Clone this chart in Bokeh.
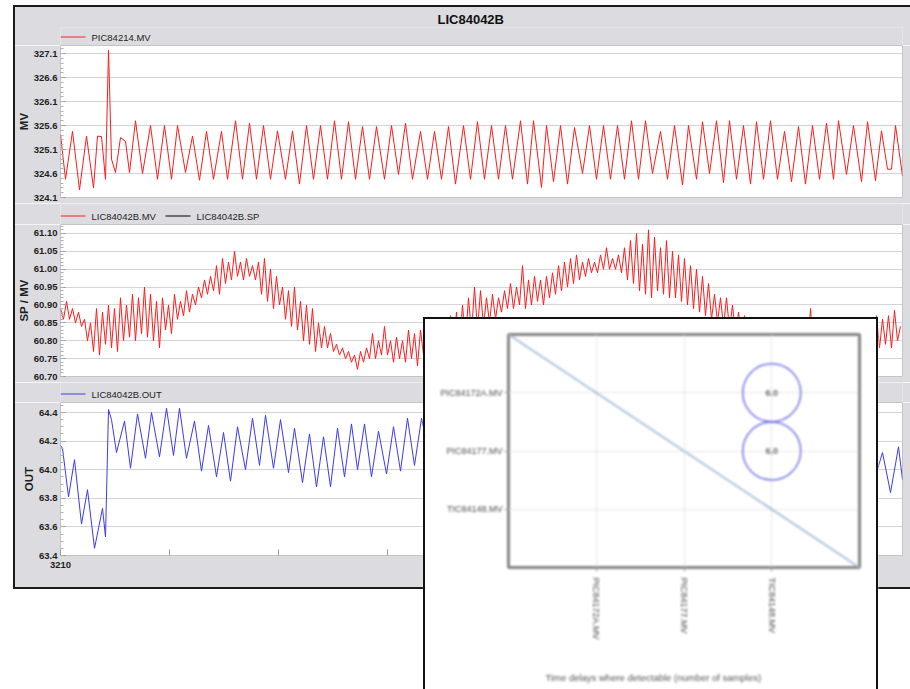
from bokeh.plotting import figure
from bokeh.models import (Range1d, FixedTicker, PrintfTickFormatter, GridBox, Column, Div, Title)
from bokeh.core.properties import value
from bokeh.embed import file_html
from bokeh.resources import INLINE

# ---------------- data ----------------
chart_title = "LIC84042B"

# PIC84214.MV  (sample index, value)
pic_samples = [
    3210, 3215, 3222, 3229, 3236, 3243, 3247, 3251, 3255, 3258,
    3261, 3265, 3270, 3275, 3279, 3285, 3292, 3300, 3307, 3314,
    3321, 3327, 3335, 3342, 3349, 3356, 3363, 3371, 3377, 3385,
    3392, 3399, 3406, 3413, 3420, 3427, 3435, 3442, 3449, 3456,
    3463, 3470, 3477, 3484, 3491, 3498, 3505, 3512, 3519, 3526,
    3534, 3541, 3548, 3555, 3562, 3570, 3577, 3584, 3591, 3598,
    3605, 3613, 3620, 3627, 3634, 3641, 3648, 3655, 3662, 3670,
    3677, 3683, 3691, 3696, 3703, 3710, 3717, 3724, 3732, 3739,
    3746, 3753, 3760, 3767, 3774, 3781, 3788, 3795, 3802, 3810,
    3817, 3824, 3832, 3838, 3846, 3852, 3859, 3866, 3873, 3879,
    3886, 3893, 3900, 3906, 3913, 3920, 3927, 3934, 3941, 3948,
    3955, 3962, 3969, 3976, 3983, 3988, 3996, 4003, 4011, 4017,
    4025, 4031, 4037, 4041, 4045, 4052,
]
pic_values = [
    325.41, 324.48, 325.48, 324.26, 325.38, 324.30, 325.38, 325.37, 324.48, 327.17,
    324.90, 324.62, 325.35, 325.27, 324.62, 325.70, 324.60, 325.60, 324.48, 325.60,
    324.48, 325.60, 324.62, 325.38, 324.46, 325.48, 324.48, 325.48, 324.48, 325.70,
    324.48, 325.65, 324.48, 325.60, 324.48, 325.49, 324.48, 325.49, 324.38, 325.60,
    324.48, 325.60, 324.48, 325.70, 324.48, 325.68, 324.48, 325.58, 324.48, 325.58,
    324.48, 325.60, 324.58, 325.65, 324.48, 325.48, 324.48, 325.48, 324.48, 325.58,
    324.38, 325.60, 324.48, 325.68, 324.48, 325.60, 324.48, 325.60, 324.48, 325.70,
    324.38, 325.70, 324.31, 325.60, 324.43, 325.60, 324.38, 325.56, 324.60, 325.60,
    324.48, 325.60, 324.48, 325.60, 324.48, 325.70, 324.48, 325.70, 324.60, 325.48,
    324.48, 325.60, 324.36, 325.60, 324.48, 325.68, 324.60, 325.70, 324.41, 325.70,
    324.48, 325.60, 324.38, 325.68, 324.48, 325.70, 324.48, 325.48, 324.43, 325.58,
    324.38, 325.60, 324.48, 325.65, 324.48, 325.70, 324.58, 325.60, 324.43, 325.68,
    324.45, 325.49, 324.69, 324.69, 325.60, 324.55,
]

# LIC84042B.MV, logged every 3 samples from 3210
mv_start, mv_step = 3210, 3
mv_values = [
    60.89, 60.86, 60.91, 60.86, 60.89, 60.85, 60.88, 60.84, 60.86, 60.80,
    60.85, 60.77, 60.89, 60.76, 60.88, 60.79, 60.90, 60.78, 60.89, 60.77,
    60.92, 60.80, 60.90, 60.81, 60.93, 60.80, 60.92, 60.82, 60.95, 60.81,
    60.93, 60.80, 60.91, 60.78, 60.92, 60.83, 60.90, 60.82, 60.93, 60.86,
    60.91, 60.87, 60.94, 60.88, 60.93, 60.90, 60.95, 60.92, 60.97, 60.93,
    60.98, 60.94, 61.01, 60.93, 61.03, 60.96, 61.02, 60.97, 61.05, 60.98,
    61.02, 60.97, 61.03, 60.98, 61.01, 60.97, 61.02, 60.93, 61.03, 60.91,
    61.00, 60.89, 60.98, 60.90, 60.95, 60.86, 60.94, 60.84, 60.95, 60.83,
    60.91, 60.80, 60.90, 60.79, 60.89, 60.77, 60.85, 60.78, 60.84, 60.78,
    60.82, 60.77, 60.79, 60.76, 60.78, 60.75, 60.77, 60.74, 60.76, 60.72,
    60.77, 60.74, 60.78, 60.75, 60.82, 60.75, 60.80, 60.76, 60.84, 60.76,
    60.80, 60.74, 60.81, 60.75, 60.80, 60.74, 60.83, 60.75, 60.82, 60.73,
    60.83, 60.76, 60.84, 60.77, 60.83, 60.76, 60.85, 60.77, 60.84, 60.78,
    60.87, 60.78, 60.88, 60.79, 60.90, 60.80, 60.92, 60.82, 60.95, 60.83,
    60.94, 60.84, 60.92, 60.85, 60.93, 60.86, 60.92, 60.88, 60.94, 60.89,
    60.96, 60.89, 60.95, 60.90, 61.01, 60.89, 60.97, 60.90, 60.98, 60.91,
    60.97, 60.90, 60.98, 60.92, 60.99, 60.93, 61.01, 60.94, 61.02, 60.95,
    61.03, 60.96, 61.04, 60.97, 61.02, 60.98, 61.03, 60.99, 61.02, 60.99,
    61.04, 61.00, 61.06, 61.00, 61.03, 61.00, 61.04, 60.99, 61.06, 60.97,
    61.08, 60.96, 61.10, 60.94, 61.07, 60.93, 61.11, 60.92, 61.09, 60.94,
    61.06, 60.93, 61.08, 60.92, 61.05, 60.92, 61.04, 60.91, 61.03, 60.90,
    61.01, 60.89, 61.00, 60.88, 60.98, 60.87, 60.96, 60.86, 60.93, 60.85,
    60.92, 60.84, 60.92, 60.83, 60.90, 60.81, 60.88, 60.81, 60.87, 60.80,
    60.86, 60.78, 60.84, 60.77, 60.83, 60.76, 60.83, 60.76, 60.82, 60.75,
    60.82, 60.75, 60.83, 60.76, 60.82, 60.75, 60.84, 60.76, 60.85, 60.77,
    60.89, 60.77, 60.85, 60.77, 60.84, 60.76, 60.85, 60.77, 60.84, 60.76,
    60.83, 60.76, 60.85, 60.77, 60.84, 60.76, 60.85, 60.77, 60.86, 60.77,
    60.85, 60.78, 60.87, 60.78, 60.86, 60.79, 60.87, 60.78, 60.885, 60.80,
    60.84,
]
mv_samples = [mv_start + mv_step * i for i in range(len(mv_values))]

# LIC84042B.SP has no samples inside the displayed window
sp_samples = []
sp_values = []

# LIC84042B.OUT (NaN marks the stretch without logged data)
nan = float("nan")
out_samples = [
    3210, 3212, 3218, 3224, 3231, 3237, 3244, 3252, 3255, 3258,
    3261, 3266, 3274, 3280, 3287, 3295, 3301, 3309, 3316, 3323,
    3329, 3336, 3344, 3351, 3358, 3366, 3373, 3380, 3387, 3395,
    3402, 3409, 3415, 3423, 3430, 3438, 3444, 3452, 3459, 3466,
    3473, 3480, 3487, 3494, 3501, 3507, 3514, 3521, 3528, 3536,
    3543, 3550, 3557, 3564, 3571, 3576, 3580, 4026, 4032, 4040,
    4048, 4052,
]
out_values = [
    64.17, 64.15, 63.81, 64.07, 63.62, 63.86, 63.45, 63.73, 63.53, 64.42,
    64.35, 64.12, 64.34, 64.01, 64.39, 64.08, 64.40, 64.09, 64.43, 64.10,
    64.43, 64.08, 64.34, 63.99, 64.31, 63.95, 64.26, 63.92, 64.30, 64.00,
    64.36, 64.03, 64.38, 64.01, 64.35, 63.98, 64.29, 63.91, 64.25, 63.88,
    64.23, 63.88, 64.29, 63.95, 64.32, 64.00, 64.32, 63.95, 64.27, 63.97,
    64.30, 63.99, 64.36, 64.03, 64.36, 64.20, nan, 63.98, 64.12, 63.84,
    64.16, 63.93,
]

x_start, x_end = 3210, 4052
x_tick_step = 109

# legend rows: (label, colour)
legend_pic = [("PIC84214.MV", "#ff1a1a")]
legend_lic = [("LIC84042B.MV", "#ff1a1a"), ("LIC84042B.SP", "#000000")]
legend_out = [("LIC84042B.OUT", "#3a3af2")]

# time-delay matrix
delay_tags = ["PIC84172A.MV", "PIC84177.MV", "TIC84148.MV"]
delay_from = ["TIC84148.MV", "TIC84148.MV"]
delay_to = ["PIC84172A.MV", "PIC84177.MV"]
delay_samples = [6.0, 6.0]
delay_axis_title = "Time delays where detectable (number of samples)"

# ---------------- styling ----------------
GRAY = "#dcdce0"
SANS = "Liberation Sans"
FRAME_W = 842           # plotting width in px
LEFT, RIGHT = 47, 8     # borders around the plotting area
ITEM_STEP = 105         # px between legend entries

shared_x = Range1d(x_start, x_end)


def strip(height, top=0, title=None):
    """Grey band carrying a legend row (and optionally the chart title)."""
    s = figure(width=897, height=height, x_range=Range1d(0, FRAME_W),
               y_range=Range1d(0, height - top), title=title,
               output_backend="svg", toolbar_location=None,
               x_axis_location=None, y_axis_location=None,
               min_border_left=LEFT, min_border_right=RIGHT,
               min_border_top=top, min_border_bottom=0,
               background_fill_color=GRAY, border_fill_color=GRAY, outline_line_color=None)
    s.grid.visible = False
    return s


def legend_row(s, entries, yc=8.5):
    for i, (label, color) in enumerate(entries):
        x0 = i * ITEM_STEP
        s.segment(x0=[x0], y0=[yc], x1=[x0 + 25], y1=[yc], line_color=color, line_width=1.2)
        s.text(x=[x0 + 31], y=[yc], text=[label], text_baseline="middle", text_align="left",
               text_font=value(SANS), text_font_size="9.5px", text_color="#1e1e1e")


def make_panel(height, bottom, lo, hi, step, n_minor, fmt, ylabel, with_xaxis):
    p = figure(width=897, height=height, x_range=shared_x, y_range=Range1d(lo, hi), title=None,
               output_backend="svg", toolbar_location=None,
               x_axis_location="below" if with_xaxis else None,
               min_border_left=LEFT, min_border_right=RIGHT,
               min_border_top=0, min_border_bottom=bottom,
               background_fill_color="white", border_fill_color=GRAY,
               outline_line_color="#c4c4c8", outline_line_width=1)
    n = int(round((hi - lo) / step)) + 1
    major = [round(lo + k * step, 4) for k in range(n + 1)]
    minor = [round(lo + k * step / n_minor, 5) for k in range(n * n_minor + n_minor)]
    ya = p.yaxis[0]
    ya.ticker = FixedTicker(ticks=major, minor_ticks=minor)
    ya.formatter = PrintfTickFormatter(format=fmt)
    ya.major_label_text_font = SANS
    ya.major_label_text_font_size = "9.5px"
    ya.major_label_text_font_style = "bold"
    ya.major_label_text_color = "#1e1e1e"
    ya.major_label_standoff = 3
    ya.major_tick_in = 5
    ya.major_tick_out = 0
    ya.minor_tick_in = 3
    ya.minor_tick_out = 0
    ya.major_tick_line_color = "#9a9a9a"
    ya.minor_tick_line_color = "#b0b0b0"
    ya.axis_line_color = None
    ya.axis_label = ylabel
    ya.axis_label_text_font = SANS
    ya.axis_label_text_font_size = "11.5px"
    ya.axis_label_text_font_style = "bold"
    ya.axis_label_text_color = "#1e1e1e"
    ya.axis_label_standoff = 1
    p.ygrid.ticker = FixedTicker(ticks=major)
    p.ygrid.grid_line_color = "#d4d4d8"
    p.xgrid.visible = False
    return p


# header: chart title + legend of panel 1
head = strip(40, top=22, title=chart_title)
head.title.align = "left"
head.title.offset = 377
head.title.text_font = SANS
head.title.text_font_size = "13px"
head.title.text_font_style = "bold"
head.title.text_color = "#111111"
head.title.standoff = 2
legend_row(head, legend_pic)

# panel 1: PIC84214.MV
p1 = make_panel(158, 6, 324.1, 327.27, 0.5, 5, "%.1f", "MV", False)
p1.line(pic_samples, pic_values, line_color="#ff1a1a", line_width=1)

# panel 2: LIC84042B.MV / SP
leg2 = strip(21)
legend_row(leg2, legend_lic)
p2 = make_panel(158, 6, 60.70, 61.125, 0.05, 5, "%.2f", "SP / MV", False)
p2.line(mv_samples, mv_values, line_color="#ff1a1a", line_width=1)
p2.line(sp_samples, sp_values, line_color="#000000", line_width=1)

# panel 3: LIC84042B.OUT
leg3 = strip(20)
legend_row(leg3, legend_out)
p3 = make_panel(187, 34, 63.4, 64.47, 0.2, 4, "%.1f", "OUT", True)
p3.line(out_samples, out_values, line_color="#3a3af2", line_width=1)
xticks = list(range(x_start, x_end + 1, x_tick_step))
xa = p3.xaxis[0]
xa.ticker = FixedTicker(ticks=xticks)
xa.major_label_overrides = {t: (str(t) if t == x_start else "") for t in xticks}
xa.major_label_text_font = SANS
xa.major_label_text_font_size = "9.5px"
xa.major_label_text_font_style = "bold"
xa.major_label_text_color = "#1e1e1e"
xa.major_tick_in = 6
xa.major_tick_out = 0
xa.major_tick_line_color = "#9a9a9a"
xa.minor_tick_line_color = None
xa.axis_line_color = None
xa.major_label_standoff = 6

main = Column(children=[head, p1, leg2, p2, leg3, p3], spacing=0)
main_frame = Div(text="", width=897, height=584, margin=0,
                 styles={"border-left": "2px solid #1a1a1a", "border-top": "2px solid #1a1a1a",
                         "border-bottom": "2px solid #1a1a1a", "box-sizing": "border-box",
                         "pointer-events": "none"})

# ---------------- time-delay inset ----------------
n_tags = len(delay_tags)
pos = {t: i + 1 for i, t in enumerate(delay_tags)}
inset = figure(width=455, height=372, x_range=Range1d(0, n_tags + 1), y_range=Range1d(n_tags + 1, 0),
               output_backend="svg", toolbar_location=None,
               min_border_left=85, min_border_right=19, min_border_top=17, min_border_bottom=122,
               background_fill_color="white", border_fill_color="white",
               outline_line_color="#858585", outline_line_width=3,
               styles={"filter": "blur(0.9px)"})
inset.line([0, n_tags + 1], [0, n_tags + 1], line_color="#a9c1da", line_width=2)
cx = [pos[t] for t in delay_from]
cy = [pos[t] for t in delay_to]
inset.scatter(cx, cy, size=58, marker="circle", fill_color=None,
              line_color="#7272e8", line_width=1.5)
inset.text(cx, cy, text=[f"{v:.1f}" for v in delay_samples], text_align="center",
           text_baseline="middle", text_font=value(SANS), text_font_size="9px",
           text_font_style="bold", text_color="#707070")
tick_map = {pos[t]: t for t in delay_tags}
for ax in (inset.xaxis[0], inset.yaxis[0]):
    ax.ticker = FixedTicker(ticks=list(tick_map.keys()))
    ax.major_label_overrides = tick_map
    ax.major_label_text_font = SANS
    ax.major_label_text_font_size = "9px"
    ax.major_label_text_color = "#4a4a4a"
    ax.major_tick_in = 0
    ax.major_tick_out = 4
    ax.major_tick_line_color = "#9a9a9a"
    ax.minor_tick_line_color = None
    ax.axis_line_color = None
inset.xaxis[0].major_label_orientation = "vertical"
inset.xaxis[0].major_label_standoff = 6
inset.yaxis[0].major_label_standoff = 2
# blank axis label reserves the gap between the tag names and the caption
inset.xaxis[0].axis_label = " "
inset.xaxis[0].axis_label_text_font_size = "9px"
inset.xaxis[0].axis_label_standoff = 10
for g in (inset.xgrid[0], inset.ygrid[0]):
    g.ticker = FixedTicker(ticks=list(tick_map.keys()))
    g.grid_line_color = "#cfcfcf"
    g.grid_line_dash = "2 2"
inset.add_layout(Title(text=delay_axis_title, align="left", offset=37,
                       text_font=SANS, text_font_size="9.5px", text_font_style="normal",
                       text_color="#555555", standoff=9), "below")

inset_frame = Div(text="", width=455, height=372, margin=0,
                  styles={"border-left": "2px solid #111", "border-top": "2px solid #111",
                          "border-right": "2px solid #111", "box-sizing": "border-box",
                          "pointer-events": "none"})

page = GridBox(children=[(main, 1, 1, 2, 3), (main_frame, 1, 1, 2, 3),
                         (inset, 2, 2, 2, 1), (inset_frame, 2, 2, 2, 1)],
               rows=["5px", "312px", "272px", "100px"],
               cols=["13px", "410px", "455px", "32px"], spacing=0)

open("out.html", "w").write(file_html(page, INLINE, title=chart_title))
